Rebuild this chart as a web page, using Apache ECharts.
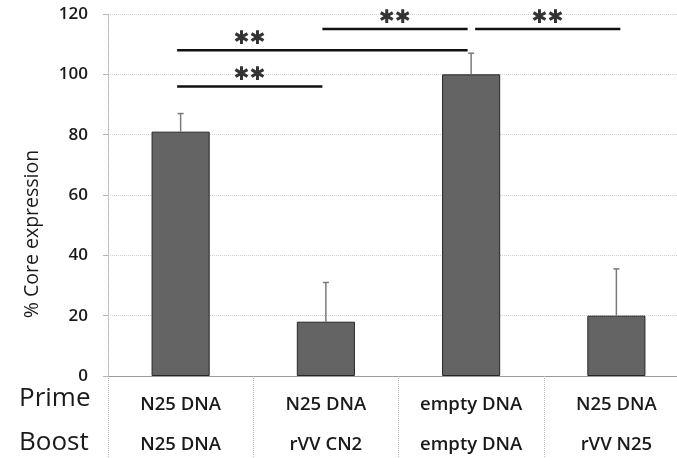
<!DOCTYPE html>
<html>
<head>
<meta charset="utf-8">
<script src="https://cdn.jsdelivr.net/npm/echarts@6/dist/echarts.min.js"></script>
<style>
  html, body { margin: 0; padding: 0; background: #fff; }
  #chart { width: 677px; height: 458px; }
</style>
</head>
<body>
<div id="chart"></div>
<script>
// data
const primeLabels = ["N25 DNA", "N25 DNA", "empty DNA", "N25 DNA"];
const boostLabels = ["N25 DNA", "rVV CN2", "empty DNA", "rVV N25"];
const coreExpression = [81, 18, 100, 20];
const errorTop = [87, 31, 107, 35.5];
const yTicks = [0, 20, 40, 60, 80, 100, 120];

// significance brackets: from group, to group, height, mark
const sigFrom = [0, 0, 1, 2];
const sigTo = [1, 2, 2, 3];
const sigHeight = [96, 108, 115, 115];
const sigMark = ["✱✱", "✱✱", "✱✱", "✱✱"];

const font = "Open Sans";
const chart = echarts.init(document.getElementById("chart"));

const categories = primeLabels.map((p, i) => i);

const option = {
  animation: false,
  // plot runs past the right edge of the picture (it is cropped there)
  grid: { left: 108, width: 581, top: 14, bottom: 82, outerBoundsMode: "none" },
  xAxis: {
    type: "category",
    data: categories,
    axisLine: { lineStyle: { color: "#9a9a9a", width: 1 } },
    axisTick: {
      show: true,
      interval: 0,
      length: 82,
      lineStyle: { color: "#bcbcbc", type: "dotted" },
    },
    axisLabel: {
      interval: 0,
      margin: 9,
      formatter: (v, i) => "{a|" + primeLabels[i] + "}\n{a|" + boostLabels[i] + "}",
      rich: {
        a: {
          fontFamily: font,
          fontSize: 18.5,
          fontWeight: 600,
          color: "#1a1a1a",
          lineHeight: 40,
        },
      },
    },
  },
  yAxis: {
    type: "value",
    min: yTicks[0],
    max: yTicks[yTicks.length - 1],
    interval: 20,
    axisLine: { show: true, lineStyle: { color: "#b5b5b5", type: "dotted" } },
    axisTick: { show: true, length: 5, lineStyle: { color: "#b5b5b5" } },
    axisLabel: {
      margin: 20,
      fontFamily: font,
      fontSize: 17,
      fontWeight: 600,
      color: "#1a1a1a",
    },
    splitLine: { lineStyle: { color: "#cfcfcf", type: "dotted" } },
  },
  graphic: [
    {
      type: "text",
      x: 32,
      y: 234,
      rotation: Math.PI / 2,
      style: {
        text: "% Core expression",
        font: "500 19.5px '" + font + "'",
        fill: "#1a1a1a",
        align: "center",
        verticalAlign: "middle",
      },
    },
    {
      type: "text",
      left: 19,
      top: 386,
      style: { text: "Prime", font: "500 26px '" + font + "'", fill: "#1a1a1a" },
    },
    {
      type: "text",
      left: 19,
      top: 430,
      style: { text: "Boost", font: "500 26px '" + font + "'", fill: "#1a1a1a" },
    },
  ],
  series: [
    {
      type: "bar",
      data: coreExpression,
      barWidth: "40%",
      itemStyle: { color: "#646464", borderColor: "#262626", borderWidth: 1 },
      z: 2,
    },
    // upper error bars
    {
      type: "custom",
      data: coreExpression.map((v, i) => [i, v, errorTop[i]]),
      renderItem: (params, api) => {
        const base = api.coord([api.value(0), api.value(1)]);
        const top = api.coord([api.value(0), api.value(2)]);
        const style = { stroke: "#7a7a7a", lineWidth: 1.5 };
        return {
          type: "group",
          children: [
            { type: "line", shape: { x1: base[0], y1: base[1], x2: top[0], y2: top[1] }, style },
            { type: "line", shape: { x1: top[0] - 3, y1: top[1], x2: top[0] + 3, y2: top[1] }, style },
          ],
        };
      },
      z: 3,
    },
    // significance lines with stars
    {
      type: "custom",
      data: sigFrom.map((f, i) => [f, sigTo[i], sigHeight[i], sigMark[i]]),
      renderItem: (params, api) => {
        const i = params.dataIndex;
        const a = api.coord([api.value(0), api.value(2)]);
        const b = api.coord([api.value(1), api.value(2)]);
        const next = api.coord([api.value(0) + 1, api.value(2)]);
        // a bracket starting where another bracket ends at the same height is nudged right
        const touching = sigTo.some((t, k) => k !== i && t === sigFrom[i] && sigHeight[k] === sigHeight[i]);
        const shift = touching ? 4 : -3.5;
        const x1 = a[0] + shift;
        const x2 = b[0] + shift;
        // stars sit over the first step of the bracket
        const sx = (x1 + next[0] + shift) / 2;
        return {
          type: "group",
          children: [
            {
              type: "line",
              shape: { x1, y1: a[1], x2, y2: a[1] },
              style: { stroke: "#111", lineWidth: 2.5 },
            },
            {
              type: "text",
              x: sx,
              y: a[1] - 2,
              style: {
                text: sigMark[i],
                font: "19px 'DejaVu Sans'",
                fill: "#333",
                align: "center",
                verticalAlign: "bottom",
              },
            },
          ],
        };
      },
      z: 4,
    },
  ],
};

chart.setOption(option);
</script>
</body>
</html>
